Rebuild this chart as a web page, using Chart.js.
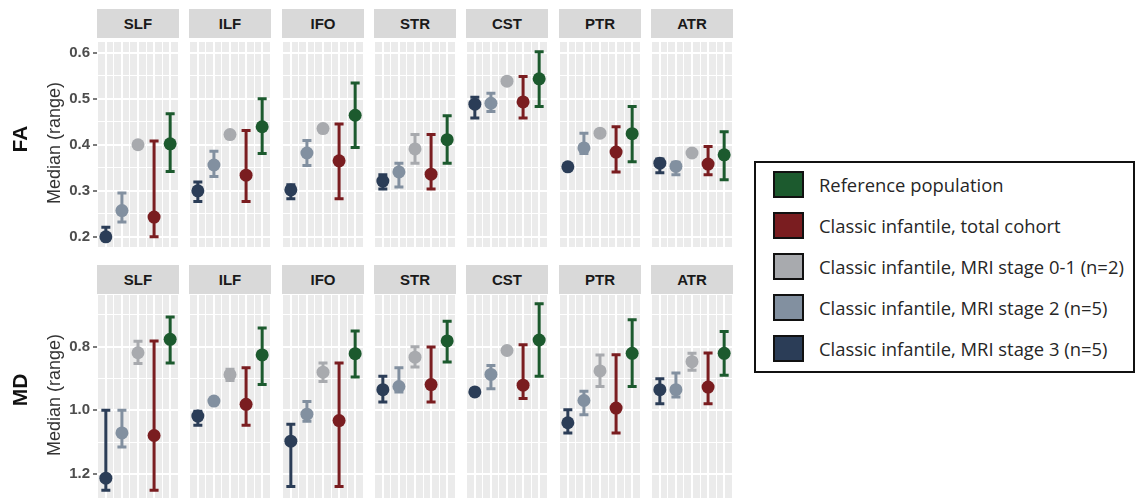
<!DOCTYPE html>
<html>
<head>
<meta charset="utf-8">
<script src="https://cdn.jsdelivr.net/npm/chart.js@4.4.0/dist/chart.umd.min.js"></script>
<style>
  body { margin: 0; background: #fff; overflow: hidden; }
  #fig { position: relative; width: 1135px; height: 498px; font-family: "Liberation Sans", Arial, sans-serif; }
  canvas { position: absolute; }
  .strip { position: absolute; background: #d9d9d9; color: #1a1a1a; font-weight: bold; font-size: 15px;
           display: flex; align-items: center; justify-content: center; }
  .ytitle, .rowlab { position: absolute; transform: translate(-50%, -50%) rotate(-90deg); white-space: nowrap; }
  .ytitle { font-size: 18px; color: #333; }
  .rowlab { font-size: 21px; font-weight: bold; color: #111; }
  #legend { position: absolute; left: 754px; top: 161px; width: 377px; height: 208px; border: 2px solid #111;
            font-family: "Open Sans", sans-serif; font-size: 18.4px; color: #262626; }
  .item { position: absolute; left: 17px; height: 26px; display: flex; align-items: center; white-space: nowrap; }
  .sw { width: 27px; height: 23px; border: 2px solid #111; margin-right: 15px; flex: none; }
</style>
</head>
<body>
<div id="fig"></div>
<script>
const tracts = ['SLF', 'ILF', 'IFO', 'STR', 'CST', 'PTR', 'ATR'];
const groups = ['Classic infantile, MRI stage 3 (n=5)', 'Classic infantile, MRI stage 2 (n=5)',
                'Classic infantile, MRI stage 0-1 (n=2)', 'Classic infantile, total cohort', 'Reference population'];
const groupColors = ['#2b3d57', '#8290a0', '#a8aaae', '#7a1d20', '#1c5a2e'];

// FA: median, min, max per group (order follows tracts)
const faStage3Med = [0.200, 0.300, 0.302, 0.321, 0.488, 0.352, 0.360];
const faStage3Lo  = [0.195, 0.277, 0.283, 0.304, 0.458, 0.348, 0.339];
const faStage3Hi  = [0.221, 0.319, 0.313, 0.335, 0.503, 0.355, 0.369];
const faStage2Med = [0.257, 0.356, 0.382, 0.341, 0.490, 0.393, 0.353];
const faStage2Lo  = [0.232, 0.331, 0.355, 0.308, 0.472, 0.381, 0.335];
const faStage2Hi  = [0.295, 0.386, 0.409, 0.360, 0.512, 0.425, 0.362];
const faStage01Med = [0.400, 0.422, 0.435, 0.391, 0.538, 0.425, 0.382];
const faStage01Lo  = [0.398, 0.420, 0.433, 0.360, 0.536, 0.423, 0.380];
const faStage01Hi  = [0.402, 0.424, 0.437, 0.422, 0.540, 0.427, 0.384];
const faTotalMed = [0.243, 0.334, 0.365, 0.336, 0.493, 0.384, 0.358];
const faTotalLo  = [0.200, 0.277, 0.283, 0.304, 0.458, 0.341, 0.335];
const faTotalHi  = [0.408, 0.431, 0.445, 0.422, 0.548, 0.439, 0.396];
const faRefMed = [0.402, 0.439, 0.464, 0.411, 0.543, 0.424, 0.378];
const faRefLo  = [0.342, 0.381, 0.394, 0.360, 0.483, 0.363, 0.324];
const faRefHi  = [0.467, 0.500, 0.534, 0.463, 0.602, 0.483, 0.428];

// MD
const mdStage3Med = [1.213, 1.018, 1.097, 0.935, 0.942, 1.039, 0.935];
const mdStage3Lo  = [1.000, 1.003, 1.044, 0.893, 0.935, 0.998, 0.901];
const mdStage3Hi  = [1.251, 1.047, 1.239, 0.974, 0.948, 1.071, 0.979];
const mdStage2Med = [1.071, 0.971, 1.012, 0.925, 0.887, 0.969, 0.935];
const mdStage2Lo  = [1.000, 0.968, 0.972, 0.866, 0.859, 0.940, 0.883];
const mdStage2Hi  = [1.115, 0.974, 1.034, 0.942, 0.932, 1.014, 0.958];
const mdStage01Med = [0.819, 0.888, 0.880, 0.833, 0.812, 0.876, 0.847];
const mdStage01Lo  = [0.783, 0.871, 0.851, 0.800, 0.808, 0.826, 0.821];
const mdStage01Hi  = [0.853, 0.906, 0.909, 0.864, 0.816, 0.925, 0.874];
const mdTotalMed = [1.079, 0.981, 1.032, 0.919, 0.921, 0.993, 0.927];
const mdTotalLo  = [0.782, 0.866, 0.851, 0.801, 0.794, 0.825, 0.820];
const mdTotalHi  = [1.251, 1.047, 1.239, 0.974, 0.963, 1.071, 0.979];
const mdRefMed = [0.777, 0.826, 0.822, 0.782, 0.779, 0.821, 0.821];
const mdRefLo  = [0.707, 0.741, 0.751, 0.720, 0.665, 0.715, 0.752];
const mdRefHi  = [0.851, 0.919, 0.895, 0.848, 0.893, 0.925, 0.890];

const faTicks = [0.2, 0.3, 0.4, 0.5, 0.6];
const faTickLabels = ['0.2', '0.3', '0.4', '0.5', '0.6'];
const faMinor = [0.25, 0.35, 0.45, 0.55];
const mdTicks = [0.8, 1.0, 1.2];
const mdTickLabels = ['0.8', '1.0', '1.2'];
const mdMinor = [0.7, 0.9, 1.1];
const xTicks = [0.5, 1, 1.5, 2, 2.5, 3, 3.5, 4, 4.5, 5, 5.5];

const rows = [
  { name: 'FA', med: [faStage3Med, faStage2Med, faStage01Med, faTotalMed, faRefMed],
    lo: [faStage3Lo, faStage2Lo, faStage01Lo, faTotalLo, faRefLo],
    hi: [faStage3Hi, faStage2Hi, faStage01Hi, faTotalHi, faRefHi],
    ticks: faTicks, labels: faTickLabels, minor: faMinor, min: 0.178, max: 0.623, reverse: false,
    stripTop: 9, top: 42, height: 205, titleY: 143, labY: 139 },
  { name: 'MD', med: [mdStage3Med, mdStage2Med, mdStage01Med, mdTotalMed, mdRefMed],
    lo: [mdStage3Lo, mdStage2Lo, mdStage01Lo, mdTotalLo, mdRefLo],
    hi: [mdStage3Hi, mdStage2Hi, mdStage01Hi, mdTotalHi, mdRefHi],
    ticks: mdTicks, labels: mdTickLabels, minor: mdMinor, min: 0.6376, max: 1.2754, reverse: true,
    stripTop: 265, top: 295, height: 203, titleY: 395, labY: 390 }
];

// draws the panel background and the min-max bars behind the points
const panelPlugin = {
  id: 'panel',
  beforeDraw(chart) {
    const a = chart.chartArea, ctx = chart.ctx;
    ctx.save();
    ctx.fillStyle = '#ebebeb';
    ctx.fillRect(a.left, a.top, a.right - a.left, a.bottom - a.top);
    ctx.restore();
  },
  beforeDatasetsDraw(chart) {
    const {ctx, scales: {x, y}} = chart;
    const ds = chart.data.datasets[0];
    ctx.save();
    ctx.lineWidth = 3;
    ds.data.forEach((p, i) => {
      const px = x.getPixelForValue(p.x);
      const y1 = y.getPixelForValue(ds.lo[i]);
      const y2 = y.getPixelForValue(ds.hi[i]);
      ctx.strokeStyle = groupColors[i];
      ctx.beginPath();
      ctx.moveTo(px, y1); ctx.lineTo(px, y2);
      ctx.moveTo(px - 4.5, y1); ctx.lineTo(px + 4.5, y1);
      ctx.moveTo(px - 4.5, y2); ctx.lineTo(px + 4.5, y2);
      ctx.stroke();
    });
    ctx.restore();
  }
};

const fig = document.getElementById('fig');
const axisW = 57;
const isMajor = (list, v) => list.some(m => Math.abs(m - v) < 1e-9);

rows.forEach(row => {
  const allY = row.ticks.concat(row.minor).sort((a, b) => a - b);
  tracts.forEach((tract, t) => {
    const left = Math.round(97 + t * 92.3);
    const strip = document.createElement('div');
    strip.className = 'strip';
    strip.textContent = tract;
    Object.assign(strip.style, { left: left + 'px', top: row.stripTop + 'px', width: '82px', height: '29px' });
    fig.appendChild(strip);

    const first = t === 0;
    const cv = document.createElement('canvas');
    const w = first ? 82 + axisW : 82;
    cv.width = w; cv.height = row.height;
    Object.assign(cv.style, { left: (first ? left - axisW : left) + 'px', top: row.top + 'px',
                              width: w + 'px', height: row.height + 'px' });
    fig.appendChild(cv);

    const pts = groups.map((g, i) => ({ x: i + 1, y: row.med[i][t] }));
    new Chart(cv, {
      type: 'scatter',
      data: { datasets: [{
        data: pts,
        lo: groups.map((g, i) => row.lo[i][t]),
        hi: groups.map((g, i) => row.hi[i][t]),
        pointBackgroundColor: groupColors,
        pointBorderColor: groupColors,
        pointRadius: 6.5,
        pointHoverRadius: 6.5,
        pointBorderWidth: 0
      }] },
      options: {
        responsive: false, animation: false, devicePixelRatio: 1,
        layout: { padding: 0, autoPadding: false },
        events: [],
        plugins: { legend: { display: false }, tooltip: { enabled: false } },
        scales: {
          x: {
            type: 'linear', min: 0.45, max: 5.55,
            afterBuildTicks: s => { s.ticks = xTicks.map(v => ({ value: v })); },
            ticks: { display: false },
            border: { display: false },
            grid: { color: '#ffffff', drawTicks: false,
                    lineWidth: c => Number.isInteger(c.tick.value) ? 2 : 1 }
          },
          y: {
            type: 'linear', min: row.min, max: row.max, reverse: row.reverse,
            afterBuildTicks: s => { s.ticks = allY.map(v => ({ value: v })); },
            afterFit: s => {
              s.paddingTop = 0; s.paddingBottom = 0;
              if (first) s.width = axisW;
            },
            border: { display: false },
            ticks: {
              display: first, padding: 3, color: '#4d4d4d',
              font: { family: '"Liberation Sans", Arial, sans-serif', size: 15, weight: 'bold' },
              callback: v => {
                const k = row.ticks.findIndex(m => Math.abs(m - v) < 1e-9);
                return k >= 0 ? row.labels[k] : '';
              }
            },
            grid: {
              color: '#ffffff', drawTicks: first, tickLength: 4, tickWidth: 1.3,
              tickColor: c => isMajor(row.ticks, c.tick.value) ? '#333333' : 'rgba(0,0,0,0)',
              lineWidth: c => isMajor(row.ticks, c.tick.value) ? 2 : 1
            }
          }
        }
      },
      plugins: [panelPlugin]
    });
  });

  const title = document.createElement('div');
  title.className = 'ytitle';
  title.textContent = 'Median (range)';
  Object.assign(title.style, { left: '54px', top: row.titleY + 'px' });
  fig.appendChild(title);

  const lab = document.createElement('div');
  lab.className = 'rowlab';
  lab.textContent = row.name;
  Object.assign(lab.style, { left: '20px', top: row.labY + 'px' });
  fig.appendChild(lab);
});

// legend, top entry first
const legend = document.createElement('div');
legend.id = 'legend';
fig.appendChild(legend);
[4, 3, 2, 1, 0].forEach((g, k) => {
  const it = document.createElement('div');
  it.className = 'item';
  it.style.top = (8 + k * 41) + 'px';
  it.innerHTML = '<div class="sw" style="background:' + groupColors[g] + '"></div><span>' + groups[g] + '</span>';
  legend.appendChild(it);
});
</script>
</body>
</html>
